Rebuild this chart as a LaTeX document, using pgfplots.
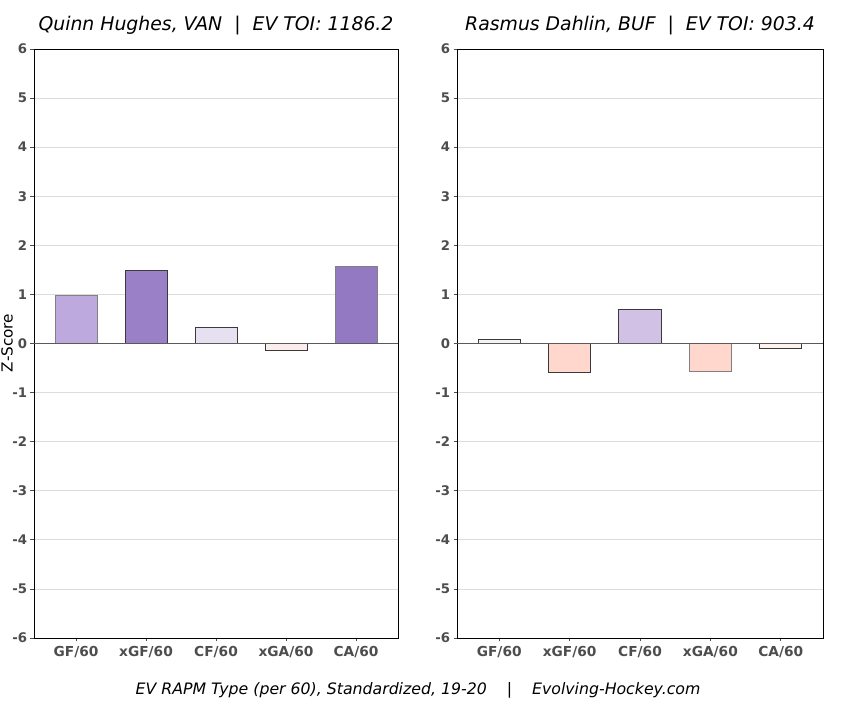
\documentclass[border=0pt]{standalone}
\usepackage{pgfplots}
\pgfplotsset{compat=1.18}
\usepackage{fontspec}
\setmainfont{DejaVu Sans}

\definecolor{tickgray}{HTML}{4D4D4D}
\definecolor{gridgray}{HTML}{DCDCDC}
\definecolor{edgegray}{HTML}{3A3A3A}
\definecolor{zerogray}{HTML}{5A5A5A}
% left panel fills
\definecolor{qGF}{HTML}{BDA9DD}
\definecolor{qxGF}{HTML}{9A80C7}
\definecolor{qCF}{HTML}{E7E0F1}
\definecolor{qxGA}{HTML}{FBEDEC}
\definecolor{qCA}{HTML}{9379C2}
% right panel fills
\definecolor{rGF}{HTML}{F4F4F4}
\definecolor{rxGF}{HTML}{FFD7CC}
\definecolor{rCF}{HTML}{D1C1E5}
\definecolor{rxGA}{HTML}{FFD7CC}
\definecolor{rCA}{HTML}{FFF3EF}

\pgfplotsset{
  rapm/.style={
    scale only axis,
    height=589bp,
    ymin=-6, ymax=6,
    xmin=-0.6, xmax=4.6,
    ybar, bar width=0.6, bar shift=0pt,
    ytick={-6,-5,-4,-3,-2,-1,0,1,2,3,4,5,6},
    yticklabels={-6,-5,-4,-3,-2,-1,0,1,2,3,4,5,6},
    xtick={0,1,2,3,4},
    xticklabels={GF/60,xGF/60,CF/60,xGA/60,CA/60},
    tick pos=left,
    tick align=outside,
    major tick length=3.5bp,
    tick style={tickgray, line width=0.8bp},
    ticklabel style={font=\bfseries\fontsize{13.3}{15}\selectfont, text=tickgray},
    xticklabel style={font=\bfseries\fontsize{13.8}{15}\selectfont, yshift=-1bp},
    ymajorgrids,
    grid style={gridgray, line width=0.7bp},
    axis line style={black, line width=0.8bp},
    title style={font=\itshape\fontsize{18.9}{20}\selectfont, at={(0.5,1)}, anchor=base, yshift=13bp},
    every axis plot/.append style={draw=edgegray, line width=0.8bp},
  }
}

\begin{document}
\begin{tikzpicture}
\useasboundingbox (0,0) rectangle (847bp,711bp);

\begin{axis}[rapm, width=364bp, at={(34bp,73bp)}, anchor=south west,
  title={Quinn Hughes, VAN \ | \ EV TOI: 1186.2}]
  \addplot[fill=qGF, draw=gray] coordinates {(0,0.98)};
  \addplot[fill=qxGF] coordinates {(1,1.49)};
  \addplot[fill=qCF] coordinates {(2,0.32)};
  \addplot[fill=qxGA] coordinates {(3,-0.15)};
  \addplot[fill=qCA, draw=gray] coordinates {(4,1.58)};
  \draw[zerogray, line width=1.4bp] (rel axis cs:0,0.5) -- (rel axis cs:1,0.5);
\end{axis}

\begin{axis}[rapm, width=366bp, at={(457bp,73bp)}, anchor=south west,
  title={Rasmus Dahlin, BUF \ | \ EV TOI: 903.4}]
  \addplot[fill=rGF] coordinates {(0,0.09)};
  \addplot[fill=rxGF] coordinates {(1,-0.58)};
  \addplot[fill=rCF] coordinates {(2,0.70)};
  \addplot[fill=rxGA, draw=gray] coordinates {(3,-0.56)};
  \addplot[fill=rCA] coordinates {(4,-0.11)};
  \draw[zerogray, line width=1.4bp] (rel axis cs:0,0.5) -- (rel axis cs:1,0.5);
\end{axis}

\node[rotate=90, font=\fontsize{15.3}{16}\selectfont] at (7bp,368bp) {Z-Score};
\node[anchor=base, font=\itshape\fontsize{15.8}{17}\selectfont] at (418bp,17bp)
  {EV RAPM Type (per 60), Standardized, 19-20 \ \ \ | \ \ \ Evolving-Hockey.com};
\end{tikzpicture}
\end{document}
